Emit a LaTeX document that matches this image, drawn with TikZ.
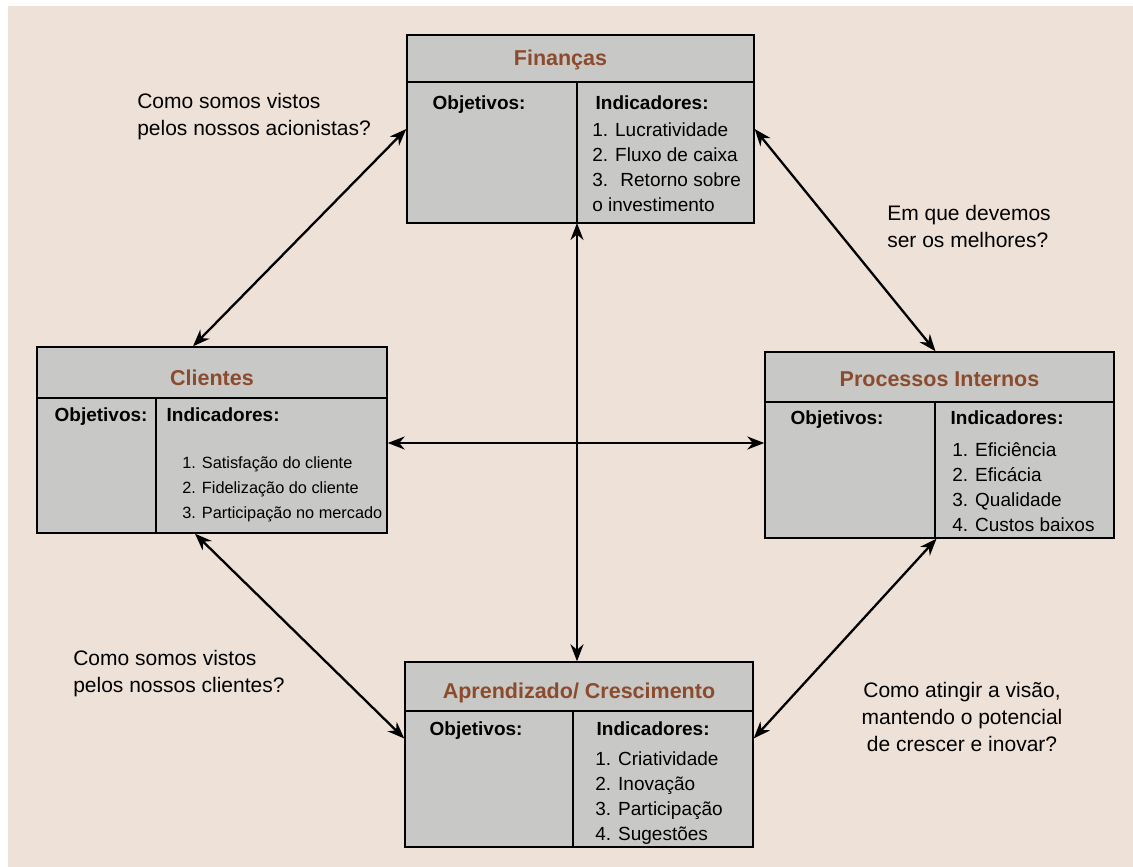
\documentclass[tikz,border=0pt]{standalone}
\usepackage{fontspec}
\setmainfont{Liberation Sans}
\usetikzlibrary{arrows.meta}

\definecolor{paper}{HTML}{EEE1D7}
\definecolor{boxgray}{HTML}{C8C8C6}
\definecolor{titlebrown}{HTML}{8C4B2D}

\begin{document}
\begin{tikzpicture}[x=1pt, y=-1pt, semithick,
  card/.style={draw, line width=1.4pt, fill=boxgray, inner sep=0pt},
  rule/.style={line width=1.4pt},
  ttl/.style={anchor=base, text=titlebrown, font=\fontsize{21.5}{24}\selectfont\bfseries},
  head/.style={anchor=base west, font=\fontsize{19}{22}\selectfont\bfseries},
  items/.style={anchor=north west, inner sep=0pt, align=left, font=\fontsize{19}{25}\selectfont},
  ask/.style={inner sep=0pt, font=\fontsize{21}{27}\selectfont},
  link/.style={line width=2.3pt, {Stealth[length=17pt,width=13pt]}-{Stealth[length=17pt,width=13pt]}}]

  \useasboundingbox (0,0) rectangle (1133,867);
  \fill[paper] (8,6) rectangle (1133,867);

  % the four boxes
  \node[card, minimum width=347pt, minimum height=188pt] (fin) at (580.5,129) {};
  \node[card, minimum width=350pt, minimum height=186pt] (cli) at (212,440) {};
  \node[card, minimum width=349pt, minimum height=186pt] (proc) at (939.5,445) {};
  \node[card, minimum width=348pt, minimum height=185pt] (apr) at (579,754.5) {};

  \draw[rule] (407,82) -- (754,82) (577,82) -- (577,223);
  \draw[rule] (37,398) -- (387,398) (156,398) -- (156,533);
  \draw[rule] (765,402) -- (1114,402) (935,402) -- (935,538);
  \draw[rule] (405,711) -- (753,711) (573,711) -- (573,847);

  % Financas
  \node[ttl] (finT) at (560.5,66) {Finanças};
  \node[head] (finO) at (429,110) {Objetivos:};
  \node[head] (finI) at (592,110) {Indicadores:};
  \node[items] (finL) at (592,122) {1. Lucratividade\\2. Fluxo de caixa\\3.~ Retorno sobre\\o investimento};

  % Clientes
  \node[ttl] (cliT) at (212,385) {Clientes};
  \node[head] (cliO) at (51,421) {Objetivos:};
  \node[head] (cliI) at (163,421) {Indicadores:};
  \node[items, font=\fontsize{16.3}{25}\selectfont] (cliL) at (182,456) {1. Satisfação do cliente\\2. Fidelização do cliente\\3. Participação no mercado};

  % Processos Internos
  \node[ttl] (procT) at (939.5,386) {Processos Internos};
  \node[head] (procO) at (787,424) {Objetivos:};
  \node[head] (procI) at (947,424) {Indicadores:};
  \node[items] (procL) at (952,442) {1. Eficiência\\2. Eficácia\\3. Qualidade\\4. Custos baixos};

  % Aprendizado
  \node[ttl] (aprT) at (579,698) {Aprendizado/ Crescimento};
  \node[head] (aprO) at (426,735) {Objetivos:};
  \node[head] (aprI) at (593,735) {Indicadores:};
  \node[items] (aprL) at (595,751) {1. Criatividade\\2. Inovação\\3. Participação\\4. Sugestões};

  % questions
  \node[ask, anchor=north west, align=left] (q1) at (137,93) {Como somos vistos\\pelos nossos acionistas?};
  \node[ask, anchor=north west, align=left] (q2) at (887,205) {Em que devemos\\ser os melhores?};
  \node[ask, anchor=north west, align=left] (q3) at (73,650) {Como somos vistos\\pelos nossos clientes?};
  \node[ask, anchor=north, align=center] (q4) at (962,682) {Como atingir a visão,\\mantendo o potencial\\de crescer e inovar?};

  % links
  \coordinate (finDiv) at (577,223);
  \draw[link] ([xshift=-19pt]cli.north) -- (fin.west);
  \draw[link] (fin.east) -- ([xshift=-4pt]proc.north);
  \draw[link] (finDiv) -- (finDiv |- apr.north);
  \draw[link] ([yshift=-3pt]cli.east) -- ([yshift=-3pt]cli.east -| proc.west);
  \draw[link] ([xshift=-17pt]cli.south) -- ([yshift=16pt]apr.west);
  \draw[link] ([xshift=-3pt]proc.south) -- ([yshift=16pt]apr.east);
\end{tikzpicture}
\end{document}
